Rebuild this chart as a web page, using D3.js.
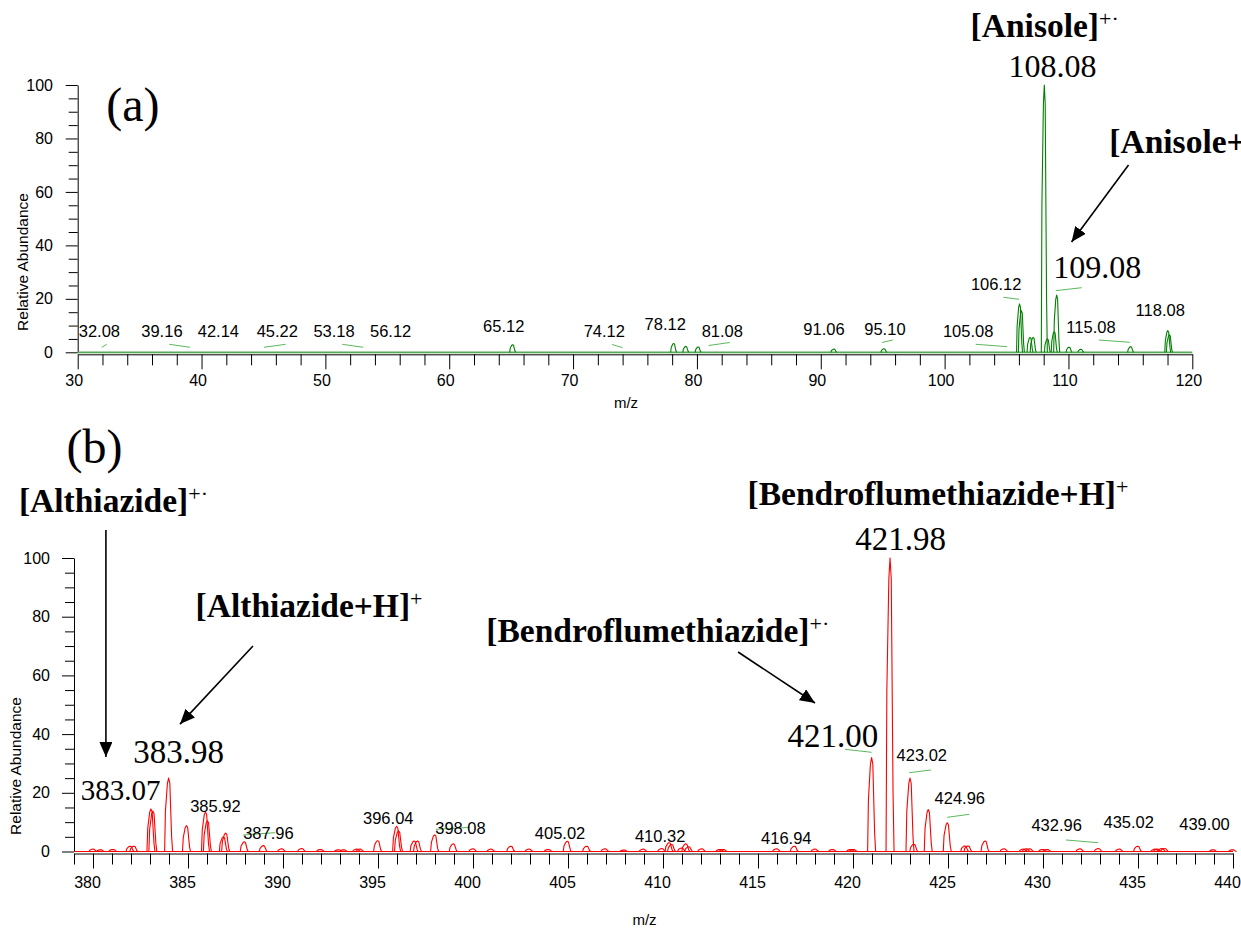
<!DOCTYPE html>
<html>
<head>
<meta charset="utf-8">
<script src="https://cdn.jsdelivr.net/npm/d3@7"></script>
<style>
  body { margin: 0; background: #fff; }
  svg { display: block; }
</style>
</head>
<body>
<svg id="chart" width="1241" height="928"></svg>
<script>
// ---- panel (a): anisole, m/z 30-120 ----
const mzA = [65.12, 78.12, 79.1, 80.1, 91.06, 95.1, 106.05, 106.2, 106.9, 107.15, 108.05, 108.3, 108.85, 109.05, 110.05, 111.0, 115.02, 118.02, 118.15]
const intA = [2.8, 3.3, 2.2, 2.0, 1.2, 1.3, 18.1, 15.6, 5.6, 5.6, 100, 5, 7.7, 21.4, 1.9, 1.1, 2.1, 8.1, 6.5]

// small peak labels and where their text sits (m/z, abundance)
const labA = ["32.08", "39.16", "42.14", "45.22", "53.18", "56.12", "65.12", "74.12", "78.12", "81.08", "91.06", "95.10", "105.08", "106.12", "115.08", "118.08"]
const labPosA = [[31.75, 5.8], [36.8, 5.8], [41.36, 5.8], [46.12, 5.8], [50.7, 5.8], [55.27, 5.8], [64.4, 7.7], [72.52, 5.7], [77.44, 8.5], [82.05, 5.7], [90.26, 6.5], [95.18, 6.5], [101.9, 5.8], [104.16, 23.3], [111.82, 7.3], [117.41, 13.7]]
// green leader lines [x1, y1, x2, y2]
const leadA = [[31.94, 1.87, 32.34, 2.99], [37.4, 2.99, 39.07, 1.87], [45.04, 1.87, 46.79, 2.99], [51.36, 2.99, 53.06, 1.87], [73.15, 2.92, 73.99, 1.76], [80.94, 2.54, 82.66, 3.67], [94.95, 3.67, 95.81, 4.6], [102.51, 2.99, 105.06, 2.1], [104.74, 20.58, 106.03, 19.83], [108.97, 23.05, 111.07, 24.17], [112.46, 4.6, 114.96, 3.74]]
// big labels
const bigA = ["108.08", "109.08"]
const bigPosA = [[108.71, 102.9], [112.32, 27.7]]
const nameA = ["[Anisole]", "[Anisole+H]"]
const nameSupA = ["+·", "+"]
const namePosA = [[102.1, 117.8], [113.3, 74.6]]
const arrowA = [[114.85, 70.08, 110.25, 41.27]]

// ---- panel (b): althiazide / bendroflumethiazide, m/z 379-440 ----
const mzB = [380.0, 380.4, 381.05, 381.95, 382.15, 383.05, 383.15, 383.98, 384.92, 385.92, 386.02, 386.86, 386.98, 387.96, 388.96, 389.93, 390.98, 391.98, 392.92, 393.2, 393.88, 394.05, 394.98, 395.98, 396.08, 396.9, 397.08, 397.98, 398.96, 400.0, 400.95, 401.99, 402.95, 403.96, 404.96, 405.98, 406.95, 407.95, 408.96, 409.93, 410.32, 410.45, 410.98, 411.2, 411.35, 412.04, 413.0, 413.17, 415.98, 416.91, 418.0, 418.93, 419.88, 420.02, 420.98, 421.95, 423.0, 423.2, 423.96, 424.96, 425.88, 426.05, 426.95, 427.95, 428.96, 429.12, 429.3, 429.98, 430.22, 431.95, 432.91, 434.02, 434.98, 435.9, 436.02, 436.25, 436.4, 438.96, 439.98]
const intB = [0.8, 0.6, 0.7, 1.8, 1.8, 14.5, 13.8, 25, 8.8, 13.5, 10.5, 5, 6.3, 3.3, 2.0, 0.9, 1.0, 0.7, 0.6, 0.6, 0.8, 0.8, 3.7, 8.6, 7, 3.6, 3.6, 5.7, 2.6, 0.9, 0.8, 1.8, 0.8, 0.7, 3.5, 1.8, 0.9, 0.5, 0.8, 1.0, 3.0, 2.4, 1.2, 2.6, 1.6, 0.9, 0.7, 0.7, 0.9, 1.8, 0.8, 0.7, 0.7, 0.7, 32, 100, 25, 2.5, 14.3, 9.8, 1.9, 1.9, 3.6, 0.9, 0.8, 0.9, 0.9, 0.7, 0.7, 0.9, 1.0, 0.8, 1.8, 0.8, 0.8, 1.0, 1.0, 0.6, 0.6]

const labB = ["385.92", "387.96", "396.04", "398.08", "405.02", "410.32", "416.94", "423.02", "424.96", "432.96", "435.02", "439.00"]
const labPosB = [[386.44, 13.56], [389.23, 4.16], [395.54, 9.27], [399.34, 5.86], [404.58, 4.16], [409.85, 3.34], [416.49, 2.45], [423.62, 30.83], [425.62, 16.18], [430.72, 7.09], [434.51, 8.11], [438.5, 7.33]]
const leadB = [[387.91, 5.62, 389.58, 6.41], [398.05, 7.56, 399.84, 8.25], [419.58, 34.82, 420.98, 33.8], [422.96, 26.85, 424.11, 27.77], [424.96, 11.65, 426.12, 12.67], [431.21, 3.92, 432.91, 3.0]]
const bigB = ["383.07", "383.98", "421.00", "421.98"]
const bigPosB = [[381.45, 17.55], [384.51, 30.05], [418.94, 35.7], [422.5, 102.7]]
const bigSizeB = [29, 33, 33, 33]
const nameB = ["[Althiazide]", "[Althiazide+H]", "[Bendroflumethiazide]", "[Bendroflumethiazide+H]"]
const nameSupB = ["+·", "+", "+·", "+"]
const namePosB = [[376.1, 115.8], [385.4, 79.9], [400.7, 71.4], [414.45, 118.06]]
const arrowB = [[380.68, 109.5, 380.68, 32.2], [388.42, 70.0, 384.58, 43.4], [413.95, 67.97, 418.0, 50.6]]

const sans = "'Liberation Sans', Arial, sans-serif"
const serif = "'Liberation Serif', 'Times New Roman', serif"
const leaderColor = "#5cb85c"

const svg = d3.select('#chart')

svg.append('defs').append('marker')
    .attr('id', 'arrowhead')
    .attr('markerUnits', 'userSpaceOnUse')
    .attr('viewBox', '0 0 15 13')
    .attr('refX', 15).attr('refY', 6.5)
    .attr('markerWidth', 15).attr('markerHeight', 13)
    .attr('orient', 'auto')
    .append('path')
    .attr('d', 'M0,0 L15,6.5 L0,13 Z')
    .attr('fill', '#000')

// profile shape of a single peak, in units of half width / height
const peakShape = [[-1, 0], [-0.8, 0.55], [-0.3, 0.93], [0, 1], [0.3, 0.93], [0.75, 0.2], [1, 0]]

const drawPanel = (p) => {
    const x = d3.scaleLinear().domain(p.xDomain).range(p.xRange)
    const y = d3.scaleLinear().domain([0, 100]).range(p.yRange)
    const g = svg.append('g')

    // x axis, sits just under the zero line
    const axisY = y(0) + 2
    const xMinor = d3.range(p.xDomain[0], p.xDomain[1] + 0.001, p.minorStep).filter(v => p.xMajor.indexOf(v) < 0)
    g.append('g').attr('transform', `translate(0,${axisY})`)
        .call(d3.axisBottom(x).tickValues(xMinor).tickSize(11).tickSizeOuter(0).tickFormat(''))
        .call(a => a.select('.domain').remove())
    g.append('g').attr('transform', `translate(0,${axisY})`)
        .call(d3.axisBottom(x).tickValues(p.xMajor).tickSize(15).tickSizeOuter(0).tickPadding(p.xPad).tickFormat(d3.format('d')))
        .call(a => a.selectAll('text').attr('dx', p.labelShift))

    // y axis
    const yMinor = d3.range(0, 101, 5).filter(v => v % 20 !== 0)
    g.append('g').attr('transform', `translate(${p.xRange[0]},0)`)
        .call(d3.axisLeft(y).tickValues(yMinor).tickSize(9).tickSizeOuter(0).tickFormat(''))
        .call(a => a.select('.domain').remove())
    g.append('g').attr('transform', `translate(${p.xRange[0]},0)`)
        .call(d3.axisLeft(y).tickValues(d3.range(0, 101, 20)).tickSize(12).tickSizeOuter(0).tickPadding(p.yPad))

    g.selectAll('.tick text').attr('font-family', sans).attr('font-size', 16).attr('fill', '#000')
    g.selectAll('.tick line, .domain').attr('stroke', '#000')

    // axis titles
    g.append('text')
        .attr('x', d3.mean(p.xRange) - 9).attr('y', y(0) + p.mzOffset)
        .attr('text-anchor', 'middle').attr('font-family', sans).attr('font-size', 15)
        .text('m/z')
    g.append('text')
        .attr('transform', `translate(${p.yTitleX},${p.yTitleY}) rotate(-90)`)
        .attr('text-anchor', 'middle').attr('font-family', sans).attr('font-size', 15.5)
        .text('Relative Abundance')

    // spectrum: flat baseline, then each peak
    g.append('line')
        .attr('x1', p.xRange[0]).attr('x2', p.xRange[1])
        .attr('y1', y(0)).attr('y2', y(0))
        .attr('stroke', p.baseColor).attr('stroke-width', p.baseWidth)
    g.selectAll('path.peak')
        .data(p.mz.map((m, i) => [m, p.int[i]]))
        .join('path')
        .attr('class', 'peak')
        .attr('fill', 'none').attr('stroke', p.color).attr('stroke-width', 1.1)
        .attr('stroke-linejoin', 'round')
        .attr('d', d => d3.line()(peakShape.map(([u, v]) => [x(d[0]) + u * p.halfWidth, y(0) - v * (y(0) - y(d[1]))])))

    // leader lines
    g.selectAll('line.leader')
        .data(p.leaders)
        .join('line')
        .attr('class', 'leader')
        .attr('x1', d => x(d[0])).attr('y1', d => y(d[1]))
        .attr('x2', d => x(d[2])).attr('y2', d => y(d[3]))
        .attr('stroke', leaderColor).attr('stroke-width', 1)

    // small m/z labels
    g.selectAll('text.lab')
        .data(p.labels)
        .join('text')
        .attr('class', 'lab')
        .attr('x', (d, i) => x(p.labelPos[i][0])).attr('y', (d, i) => y(p.labelPos[i][1]))
        .attr('text-anchor', 'middle').attr('font-family', sans).attr('font-size', 16.5)
        .text(d => d)

    // big m/z labels
    g.selectAll('text.big')
        .data(p.big)
        .join('text')
        .attr('class', 'big')
        .attr('x', (d, i) => x(p.bigPos[i][0])).attr('y', (d, i) => y(p.bigPos[i][1]))
        .attr('text-anchor', 'middle').attr('font-family', serif)
        .attr('font-size', (d, i) => p.bigSize[i])
        .text(d => d)

    // compound names with superscript charge
    p.names.forEach((n, i) => {
        const t = g.append('text')
            .attr('x', x(p.namePos[i][0])).attr('y', y(p.namePos[i][1]))
            .attr('font-family', serif).attr('font-size', 33.5).attr('font-weight', 'bold')
        t.append('tspan').text(n)
        t.append('tspan').attr('dy', -11).attr('font-size', 22).attr('font-weight', 'normal').text(p.nameSup[i])
    })

    // panel letter
    g.append('text')
        .attr('x', x(p.letterPos[0])).attr('y', y(p.letterPos[1]))
        .attr('font-family', serif).attr('font-size', 48)
        .text(p.letter)

    // arrows
    g.selectAll('line.arrow')
        .data(p.arrows)
        .join('line')
        .attr('class', 'arrow')
        .attr('x1', d => x(d[0])).attr('y1', d => y(d[1]))
        .attr('x2', d => x(d[2])).attr('y2', d => y(d[3]))
        .attr('stroke', '#000').attr('stroke-width', 1.6)
        .attr('marker-end', 'url(#arrowhead)')
}

drawPanel({
    xDomain: [30, 120], xRange: [77.7, 1192.3], yRange: [352.3, 85],
    xMajor: d3.range(30, 121, 10), minorStep: 2, xPad: 5.6, yPad: 12.7, labelShift: -4,
    mzOffset: 56, yTitleX: 28, yTitleY: 262,
    color: '#008000', baseColor: '#55a855', baseWidth: 1.8, halfWidth: 3,
    mz: mzA, int: intA,
    labels: labA, labelPos: labPosA, leaders: leadA,
    big: bigA, bigPos: bigPosA, bigSize: [32, 32],
    names: nameA, nameSup: nameSupA, namePos: namePosA,
    letter: '(a)', letterPos: [32.3, 86.5],
    arrows: arrowA
})

drawPanel({
    xDomain: [379, 440], xRange: [74, 1233], yRange: [851.5, 558],
    xMajor: d3.range(380, 441, 5), minorStep: 1, xPad: 7.8, yPad: 12, labelShift: -6,
    mzOffset: 73, yTitleX: 21, yTitleY: 766,
    color: '#ff0000', baseColor: '#ff0000', baseWidth: 1.1, halfWidth: 4,
    mz: mzB, int: intB,
    labels: labB, labelPos: labPosB, leaders: leadB,
    big: bigB, bigPos: bigPosB, bigSize: bigSizeB,
    names: nameB, nameSup: nameSupB, namePos: namePosB,
    letter: '(b)', letterPos: [378.6, 132.3],
    arrows: arrowB
})
</script>
</body>
</html>
